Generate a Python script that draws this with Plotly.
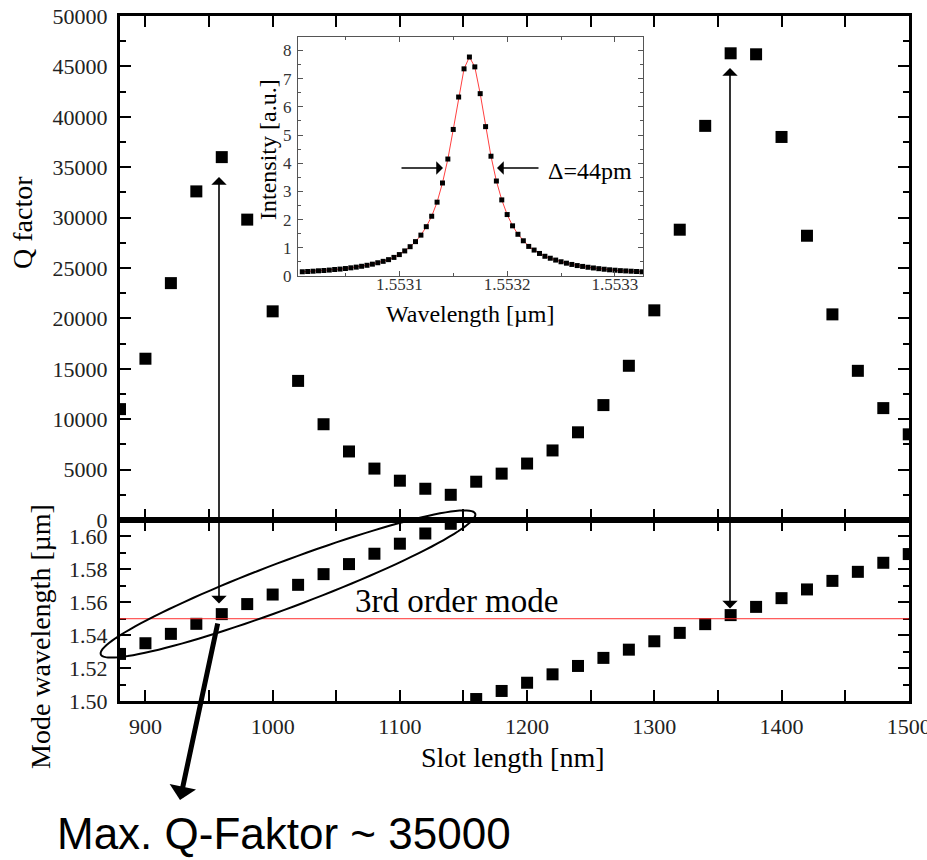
import numpy as np
import plotly.graph_objects as go

# Q factor and mode wavelength vs slot length
slot_nm = [880, 900, 920, 940, 960, 980, 1000, 1020, 1040, 1060, 1080, 1100, 1120, 1140, 1160, 1180,
           1200, 1220, 1240, 1260, 1280, 1300, 1320, 1340, 1360, 1380, 1400, 1420, 1440, 1460, 1480, 1500]
q_factor = [11000, 16000, 23500, 32600, 36000, 29800, 20700, 13800, 9500, 6800, 5100, 3900, 3100, 2500,
            3800, 4600, 5600, 6900, 8700, 11400, 15300, 20800, 28800, 39100, 46300, 46200, 38000, 28200,
            20400, 14800, 11100, 8500]
mode_um = [1.5286, 1.5351, 1.5408, 1.5469, 1.5528, 1.5589, 1.5647, 1.5706, 1.5771, 1.5832, 1.5895,
           1.5956, 1.6018, 1.6077, 1.5012, 1.5061, 1.5111, 1.5162, 1.5213, 1.5262, 1.5312, 1.5363,
           1.5414, 1.5467, 1.5522, 1.5572, 1.5625, 1.5678, 1.5730, 1.5785, 1.5840, 1.5893]
target_um = 1.55

# inset: resonance spectrum
inset_wl = [1.553010, 1.553015, 1.553020, 1.553025, 1.553030, 1.553035, 1.553040, 1.553045,
            1.553050, 1.553055, 1.553060, 1.553065, 1.553070, 1.553075, 1.553080, 1.553085,
            1.553090, 1.553095, 1.553100, 1.553105, 1.553110, 1.553115, 1.553120, 1.553125,
            1.553130, 1.553135, 1.553140, 1.553145, 1.553150, 1.553155, 1.553160, 1.553165,
            1.553170, 1.553175, 1.553180, 1.553185, 1.553190, 1.553195, 1.553200, 1.553205,
            1.553210, 1.553215, 1.553220, 1.553225, 1.553230, 1.553235, 1.553240, 1.553245,
            1.553250, 1.553255, 1.553260, 1.553265, 1.553270, 1.553275, 1.553280, 1.553285,
            1.553290, 1.553295, 1.553300, 1.553305, 1.553310, 1.553315, 1.553320, 1.553325]
inset_int = [0.15, 0.16, 0.17, 0.185, 0.195, 0.21, 0.23, 0.245, 0.265, 0.29, 0.315, 0.345, 0.38, 0.42,
             0.47, 0.52, 0.58, 0.66, 0.76, 0.89, 1.04, 1.22, 1.45, 1.75, 2.12, 2.62, 3.3, 4.15, 5.2,
             6.35, 7.35, 7.77, 7.42, 6.47, 5.3, 4.25, 3.37, 2.7, 2.18, 1.78, 1.48, 1.25, 1.05, 0.92,
             0.8, 0.7, 0.63, 0.565, 0.505, 0.455, 0.41, 0.37, 0.34, 0.31, 0.285, 0.26, 0.24, 0.22,
             0.205, 0.19, 0.18, 0.17, 0.16, 0.15]

SERIF = "Liberation Serif"
W, H = 927, 860
ML, MR, MT, MB = 120, 18, 16, 159
PW, PH = W - ML - MR, H - MT - MB
SPLIT = 181 / PH  # bottom panel height fraction


def px(x):
    return (x - ML) / PW


def py(y):
    return (H - MB - y) / PH


fig = go.Figure()

fig.add_trace(go.Scatter(x=slot_nm, y=mode_um, mode="markers", xaxis="x", yaxis="y",
                         marker=dict(symbol="square", size=12, color="black")))
fig.add_trace(go.Scatter(x=slot_nm, y=q_factor, mode="markers", xaxis="x2", yaxis="y2",
                         marker=dict(symbol="square", size=12, color="black")))
fig.add_trace(go.Scatter(x=inset_wl, y=inset_int, mode="lines", xaxis="x3", yaxis="y3",
                         line=dict(color="#ff4040", width=1)))
fig.add_trace(go.Scatter(x=inset_wl, y=inset_int, mode="markers", xaxis="x3", yaxis="y3",
                         marker=dict(symbol="square", size=5, color="black")))

main_ax = dict(showline=True, linewidth=3, linecolor="black", mirror="ticks", ticks="inside",
               ticklen=11, tickwidth=2, tickcolor="black", showgrid=False, zeroline=False,
               automargin=False, tickfont=dict(family=SERIF, size=22, color="#222"))
inset_ax = dict(showline=True, linewidth=1, linecolor="#555", mirror="ticks", ticks="inside",
                ticklen=5, tickwidth=1, tickcolor="#555", showgrid=False, zeroline=False,
                automargin=False, tickfont=dict(family=SERIF, size=17, color="#333"))

fig.update_layout(
    width=W, height=H, margin=dict(l=ML, r=MR, t=MT, b=MB),
    plot_bgcolor="white", paper_bgcolor="white", showlegend=False,
    xaxis=dict(main_ax, domain=[0, 1], anchor="y", range=[880, 1500.2], dtick=100, tick0=900,
               minor=dict(dtick=50, ticks="inside", ticklen=11, tickwidth=2, tickcolor="black"),
               ticklabelstandoff=4, ticklabeloverflow="allow"),
    xaxis2=dict(main_ax, domain=[0, 1], anchor="y2", matches="x", showticklabels=False,
                dtick=100, tick0=900,
                minor=dict(dtick=50, ticks="inside", ticklen=11, tickwidth=2, tickcolor="black")),
    yaxis=dict(main_ax, domain=[0, SPLIT], anchor="x", range=[1.50, 1.61], dtick=0.02, tick0=1.5,
               tickformat=".2f", ticklabelstandoff=5,
               minor=dict(dtick=0.01, ticks="inside", ticklen=6, tickwidth=2, tickcolor="black")),
    yaxis2=dict(main_ax, domain=[SPLIT, 1], anchor="x2", range=[0, 50000], dtick=5000,
                tickformat="d", ticklabelstandoff=5,
                minor=dict(dtick=2500, ticks="inside", ticklen=6, tickwidth=2, tickcolor="black")),
    xaxis3=dict(inset_ax, domain=[px(298), px(643)], anchor="y3", range=[1.553006, 1.553326],
                dtick=0.0001, tick0=1.5531, tickformat=".4f", ticklabelstandoff=-7,
                minor=dict(dtick=0.00005, ticks="inside", ticklen=3, tickcolor="#555")),
    yaxis3=dict(inset_ax, domain=[py(276), py(37)], anchor="x3", range=[0, 8.48], dtick=1,
                ticklabelstandoff=2,
                minor=dict(dtick=0.5, ticks="inside", ticklen=3, tickcolor="#555")),
)

# red target-wavelength line
fig.add_shape(type="line", xref="x", yref="y", x0=880, x1=1500, y0=target_um, y1=target_um,
              line=dict(color="#ff3030", width=1))

# ellipse around the 3rd order branch
t = np.linspace(0, 2 * np.pi, 120)
cx, cy, a, b, th = 288, 584, 200, 23, np.radians(20.6)
ex = cx + a * np.cos(t) * np.cos(th) - b * np.sin(t) * np.sin(th)
ey = cy - a * np.cos(t) * np.sin(th) - b * np.sin(t) * np.cos(th)
path = "M " + " L ".join(f"{px(x):.5f},{py(y):.5f}" for x, y in zip(ex, ey)) + " Z"
fig.add_shape(type="path", xref="paper", yref="paper", path=path,
              line=dict(color="black", width=2))

ann = []
# axis titles
ann.append(dict(text="Q factor", x=px(22), y=py(223), textangle=-90, font=dict(size=28)))
ann.append(dict(text="Mode wavelength [µm]", x=px(40), y=py(637), textangle=-90, font=dict(size=28)))
ann.append(dict(text="Slot length [nm]", x=px(513), y=py(757), font=dict(size=28)))
ann.append(dict(text="Intensity [a.u.]", x=px(268), y=py(150), textangle=-90, font=dict(size=24)))
ann.append(dict(text="Wavelength [µm]", x=px(470), y=py(314), font=dict(size=24)))
ann.append(dict(text="Δ=44pm", x=px(546), y=py(171), xanchor="left", font=dict(size=24)))
ann.append(dict(text="3rd order mode", x=px(456), y=py(601), font=dict(size=33)))
ann.append(dict(text="Max. Q-Faktor ~ 35000", x=px(55), y=py(833), xanchor="left",
                font=dict(size=44, family="Liberation Sans")))
for a_ in ann:
    a_.setdefault("xanchor", "center")
    a_.update(xref="paper", yref="paper", yanchor="middle", showarrow=False)
    a_["font"] = dict(dict(family=SERIF, color="black"), **a_["font"])
    fig.add_annotation(**a_)

# double arrows linking Q maxima to the mode wavelength
for xp, top, bot in [(219, 177, 605), (730, 68, 610)]:
    fig.add_annotation(x=px(xp), y=py(top), xref="paper", yref="paper", ax=0, ay=bot - top,
                       axref="pixel", ayref="pixel", showarrow=True, arrowside="end+start",
                       arrowhead=1, startarrowhead=1, arrowsize=1.6, startarrowsize=1.6,
                       arrowwidth=1.6, arrowcolor="black", text="")

# inset FWHM arrows
for tail, head in [(400, 443), (540, 497)]:
    fig.add_annotation(x=px(head), y=py(168), xref="paper", yref="paper", ax=tail - head, ay=0,
                       axref="pixel", ayref="pixel", showarrow=True, arrowhead=1, arrowsize=1.5,
                       arrowwidth=1.5, arrowcolor="black", text="")

# thick arrow to the caption
fig.add_annotation(x=px(180), y=py(800), xref="paper", yref="paper", ax=38, ay=-178,
                   axref="pixel", ayref="pixel", showarrow=True, arrowhead=1, arrowsize=0.9,
                   arrowwidth=5, arrowcolor="black", text="")

fig.write_html("out.html", config={"displayModeBar": False},
               post_script="document.body.style.margin='0';")
